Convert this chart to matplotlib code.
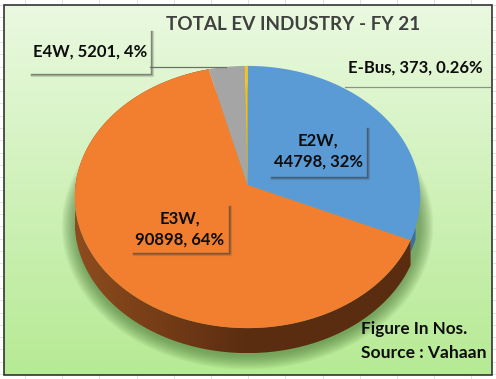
import numpy as np
import matplotlib
matplotlib.use('Agg')
import matplotlib.pyplot as plt
from matplotlib.patches import Polygon, Rectangle

plt.rcParams['font.family'] = ['Lato', 'DejaVu Sans']

categories = ['E2W', 'E3W', 'E4W', 'E-Bus']
units = [44798, 90898, 5201, 373]
share_labels = ['32%', '64%', '4%', '0.26%']
colors = ['#5b9bd5', '#f27f30', '#a5a5a5', '#ffc000']
side_colors = ['#3b6f9f', '#8a4a1e', '#777777', '#b08a00']

W, H = 496, 379
cx, cy = 247.5, 185  # pie centre in pixels
a, b, persp = 172, 130, 0.0916  # tilted disc
depth = 25


def project(theta, r=1.0):
    # theta clockwise from top, disc seen in perspective
    u = r * np.sin(theta)
    v = r * np.cos(theta)
    d = 1 + persp * v
    return cx + a * u / d, cy - b * v / d


def wedge(t0, t1):
    t = np.linspace(t0, t1, 150)
    x, y = project(t)
    return np.r_[cx, x], np.r_[cy, y]


fig = plt.figure(figsize=(W / 100, H / 100), dpi=100)
ax = fig.add_axes([0, 0, 1, 1])
ax.set_xlim(0, W)
ax.set_ylim(H, 0)
ax.axis('off')

# excel grid behind the chart
for gx in np.arange(25, W, 37.2):
    ax.plot([gx, gx], [0, H], color='#e2e2e2', lw=0.7, zorder=0)
for gy in np.arange(5, H, 12.3):
    ax.plot([0, W], [gy, gy], color='#e2e2e2', lw=0.7, zorder=0)

# chart area gradient
grad = np.linspace(0, 1, 256)[:, None, None]
top = np.array([0xea, 0xf9, 0xe0]) / 255
bottom = np.array([0xb6, 0xea, 0x94]) / 255
bg = top + (bottom - top) * grad
ax.imshow(bg, extent=[4, 492, 375, 5], aspect='auto', zorder=1)
ax.add_patch(Rectangle((4, 5), 488, 370, fill=False, ec='#333333', lw=1.2, zorder=9))

# soft shadow under the pie
all_t = np.linspace(0, 2 * np.pi, 300)
sx, sy = project(all_t)
for grow in np.linspace(13, 0, 12):
    kx = (sx - cx) * (1 + grow / 172) + cx
    ky = (sy - cy) * (1 + grow / 140) + cy + depth + 3
    ax.add_patch(Polygon(np.c_[kx, ky], fc='#3d6b2a', ec='none', alpha=0.06, zorder=2))

fractions = np.array(units) / sum(units)
edges = np.r_[0, np.cumsum(fractions)] * 2 * np.pi

# little bit of the blue wall on the right
t_blue = np.linspace(edges[1] - 0.1, edges[1], 30)
bx, by = project(t_blue)
ax.add_patch(Polygon(np.r_[np.c_[bx, by], np.c_[bx[::-1], by[::-1] + 12]], fc=side_colors[0], ec='none', zorder=3))

# side wall, light to dark from left to right
t_front = np.linspace(edges[1], edges[2], 200)
fx, fy = project(t_front)
wall = Polygon(np.r_[np.c_[fx, fy], np.c_[fx[::-1], fy[::-1] + depth]], fc='none', ec='none', zorder=3)
ax.add_patch(wall)
g = np.linspace(0, 1, 256)[None, :, None]
c0 = np.array([0x5a, 0x2c, 0x10]) / 255
c1 = np.array([0x8e, 0x4c, 0x1e]) / 255
ramp = c1 + (c0 - c1) * np.clip(g * 1.9, 0, 1)
img = ax.imshow(ramp, extent=[fx.min(), fx.max(), fy.max() + depth, fy.min()], aspect='auto', zorder=3)
img.set_clip_path(wall)

# top faces
for i in range(len(units)):
    x, y = wedge(edges[i], edges[i + 1])
    ax.fill(x, y, color=colors[i], lw=0, zorder=4)


def label_box(x0, y0, x1, y1):
    # the thin shadow along the right and bottom of a data label
    for off, al in [(2, 0.12), (1, 0.3), (0, 0.55)]:
        ax.plot([x0 + 1, x1 + off, x1 + off], [y1 + off, y1 + off, y0 + 1],
                color='#33342f', alpha=al, lw=1, zorder=5)


label_font = dict(fontsize=12, fontweight='bold', color='#0d0d0d', zorder=6, linespacing=1.35)

label_box(270, 127, 367, 177)
ax.text(318, 151, f'{categories[0]},\n{units[0]}, {share_labels[0]}', ha='center', va='center', **label_font)
label_box(132, 205, 229, 253)
ax.text(180, 229, f'{categories[1]},\n{units[1]}, {share_labels[1]}', ha='center', va='center', **label_font)
label_box(30, 30, 151, 74)
ax.text(90, 52, f'{categories[2]}, {units[2]}, {share_labels[2]}', ha='center', va='center', **label_font)
ax.text(415.5, 68, f'{categories[3]}, {units[3]}, {share_labels[3]}', ha='center', va='center', **label_font)

# leader lines
ax.plot([150, 226], [67, 67], color='#6b6f68', lw=0.9, zorder=5)
ax.plot([345, 490], [87, 87], color='#8a9684', lw=0.9, zorder=3)

ax.text(293.5, 25, 'TOTAL EV INDUSTRY - FY 21', ha='center', va='center', fontsize=13.6,
        fontweight='bold', color='#404040', zorder=6)
ax.text(361, 329, 'Figure In Nos.', ha='left', va='center', fontsize=12.3, fontweight='bold',
        color='#0d0d0d', zorder=6)
ax.text(361, 352.5, 'Source : Vahaan', ha='left', va='center', fontsize=12.6, fontweight='bold',
        color='#0d0d0d', zorder=6)

fig.savefig('out.png', dpi=100)
